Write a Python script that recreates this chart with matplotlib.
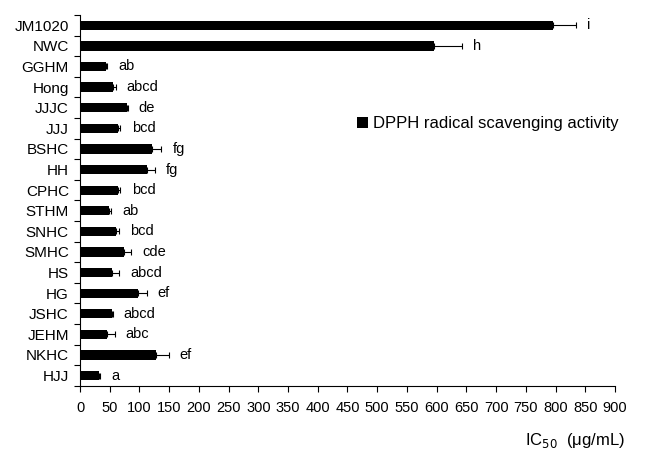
import matplotlib

matplotlib.use("Agg")
import matplotlib.pyplot as plt
import numpy as np

plt.rcParams["font.family"] = ["Liberation Sans", "DejaVu Sans"]

# 样品名称（自上而下）
samples = ["JM1020", "NWC", "GGHM", "Hong", "JJJC", "JJJ", "BSHC", "HH", "CPHC",
           "STHM", "SNHC", "SMHC", "HS", "HG", "JSHC", "JEHM", "NKHC", "HJJ"]
ic50 = [795, 595, 43, 55, 79, 64, 121, 113, 64,
        48, 60, 74, 54, 98, 53, 46, 127, 32]
err = [40, 48, 2, 5, 1, 4, 16, 13, 4,
       4, 6, 12, 12, 14, 2, 12, 22, 2]
letters = ["i", "h", "ab", "abcd", "de", "bcd", "fg", "fg", "bcd",
           "ab", "bcd", "cde", "abcd", "ef", "abcd", "abc", "ef", "a"]

fig = plt.figure(figsize=(6.48, 4.54), dpi=100)
ax = fig.add_axes([0.1235, 0.15, 0.8255, 0.817])

y = np.arange(len(samples))
ax.barh(y, ic50, height=0.45, color="black", label="DPPH radical scavenging activity")
ax.errorbar(ic50, y, xerr=[np.zeros(len(err)), err], fmt="none", ecolor="black",
            elinewidth=0.8, capsize=2, capthick=0.8)

for yi, v, e, lab in zip(y, ic50, err, letters):
    ax.annotate(lab, (v + e, yi), xytext=(8, 0), textcoords="offset points",
                ha="left", va="center", fontsize=10.5)

ax.set_ylim(len(samples) - 0.5, -0.5)
ax.set_yticks(y)
ax.set_yticklabels(samples, fontsize=11)
ax.set_yticks(np.arange(len(samples) + 1) - 0.5, minor=True)
ax.tick_params(axis="y", which="major", length=0, pad=8)
ax.tick_params(axis="y", which="minor", length=4, width=0.8)

ax.set_xlim(0, 900)
ax.set_xticks(np.arange(0, 901, 50))
ax.tick_params(axis="x", labelsize=10.5, length=4, width=0.8, pad=7)

ax.spines["top"].set_visible(False)
ax.spines["right"].set_visible(False)
for s in ("left", "bottom"):
    ax.spines[s].set_linewidth(0.8)

fig.text(625 / 648, 1 - 440 / 454, "IC$_{50}$  (μg/mL)", fontsize=12,
         ha="right", va="center")

ax.legend(loc="upper left", bbox_to_anchor=(0.505, 0.745), frameon=False, fontsize=12,
          handlelength=0.65, handleheight=0.65, handletextpad=0.3, borderaxespad=0)

fig.savefig("out.png", dpi=100)
plt.close(fig)
